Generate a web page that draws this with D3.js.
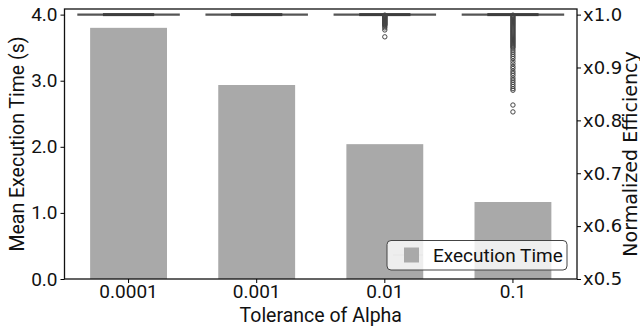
<!DOCTYPE html>
<html>
<head>
<meta charset="utf-8">
<script src="https://cdn.jsdelivr.net/npm/d3@7"></script>
<style>
  body { margin: 0; background: #fff; }
  text { fill: #111; }
</style>
</head>
<body>
<div class="main_area"></div>
<script>
const tolerances = ["0.0001", "0.001", "0.01", "0.1"];
const execTimes = [3.80, 2.935, 2.04, 1.165];
const leftTicks = [0, 1, 2, 3, 4];
const rightTicks = [0.5, 0.6, 0.7, 0.8, 0.9, 1.0];
// box stats of normalized efficiency (all collapsed at 1.0)
const boxQ1 = [1.0, 1.0, 1.0, 1.0];
const boxQ3 = [1.0, 1.0, 1.0, 1.0];
const boxMedian = [1.0, 1.0, 1.0, 1.0];
const outliers001 = [0.999, 0.998, 0.997, 0.996, 0.995, 0.994, 0.993, 0.992, 0.991, 0.990,
  0.989, 0.988, 0.987, 0.986, 0.985, 0.984, 0.983, 0.982, 0.981, 0.980, 0.978, 0.975, 0.971, 0.958];
const outliers01 = [0.999, 0.997, 0.995, 0.993, 0.991, 0.989, 0.987, 0.985, 0.983, 0.981,
  0.979, 0.977, 0.975, 0.973, 0.971, 0.969, 0.967, 0.965, 0.963, 0.961, 0.959, 0.957,
  0.955, 0.953, 0.951, 0.949, 0.947, 0.945, 0.943, 0.941, 0.939, 0.937, 0.933, 0.929,
  0.925, 0.921, 0.917, 0.912, 0.907, 0.902, 0.898, 0.893, 0.889, 0.885, 0.880, 0.876,
  0.872, 0.868, 0.864, 0.860, 0.857, 0.829, 0.816];
const outlierSets = [[], [], outliers001, outliers01];

const margin = {top: 9, right: 63, bottom: 52, left: 64.5};
const W = 640, H = 331;
const width = W - margin.left - margin.right,
  height = H - margin.top - margin.bottom;

const svg = d3.select(".main_area")
  .append("svg")
  .attr("width", W)
  .attr("height", H);

const plot = svg.append("g")
  .attr("transform", "translate(" + [margin.left, margin.top] + ")");

const x = d3.scaleBand()
  .domain(tolerances)
  .range([0, width])
  .padding(0);

const y = d3.scaleLinear()
  .domain([0, 4.085])
  .range([height, 0]);

// right axis shares the frame: x0.5 at bottom, x1.0 level with 4.0
const y2 = d3.scaleLinear()
  .domain([0.5, 1.0])
  .range([y(0), y(4)]);

// bars
plot.append("g")
  .selectAll("rect")
  .data(execTimes)
  .enter().append("rect")
    .attr("x", (d, i) => x(tolerances[i]) + x.bandwidth() * 0.2)
    .attr("width", x.bandwidth() * 0.6)
    .attr("y", d => y(d))
    .attr("height", d => y(0) - y(d))
    .attr("fill", "#a9a9a9");

// boxplots (collapsed)
const boxes = plot.append("g");
tolerances.forEach(function(t, i) {
  const cx = x(t) + x.bandwidth() / 2;
  const bw = x.bandwidth() * 0.8;
  boxes.append("line")
    .attr("x1", cx - bw / 2).attr("x2", cx + bw / 2)
    .attr("y1", y2(boxMedian[i])).attr("y2", y2(boxMedian[i]))
    .attr("stroke", "#555").attr("stroke-width", 2.4);
  boxes.append("rect")
    .attr("x", cx - bw / 4).attr("width", bw / 2)
    .attr("y", y2(boxQ3[i]) - 1.5)
    .attr("height", y2(boxQ1[i]) - y2(boxQ3[i]) + 3)
    .attr("fill", "#3d3d3d");
  boxes.selectAll(null)
    .data(outlierSets[i])
    .enter().append("circle")
      .attr("cx", cx)
      .attr("cy", d => y2(d))
      .attr("r", 2.2)
      .attr("fill", "none")
      .attr("stroke", "#444")
      .attr("stroke-width", 1);
});

// frame
plot.append("rect")
  .attr("width", width)
  .attr("height", height)
  .attr("fill", "none")
  .attr("stroke", "#111")
  .attr("stroke-width", 1.3);

const yAxis = plot.append("g")
  .call(d3.axisLeft(y).tickValues(leftTicks).tickFormat(d3.format(".1f")).tickSize(4).tickPadding(3));
yAxis.select(".domain").remove();
yAxis.selectAll("text").style("font-family", "Roboto").style("font-size", "19px");

const xAxis = plot.append("g")
  .attr("transform", "translate(0," + height + ")")
  .call(d3.axisBottom(x).tickSize(4).tickPadding(2));
xAxis.select(".domain").remove();
xAxis.selectAll("text").style("font-family", "Roboto").style("font-size", "19px");

const y2Axis = plot.append("g")
  .attr("transform", "translate(" + width + ",0)")
  .call(d3.axisRight(y2).tickValues(rightTicks).tickFormat(d => "x" + d3.format(".1f")(d)).tickSize(4).tickPadding(2));
y2Axis.select(".domain").remove();
y2Axis.selectAll("text").style("font-family", "DejaVu Sans").style("font-size", "18px");

// axis labels
svg.append("text")
  .attr("text-anchor", "middle")
  .attr("transform", "translate(" + [24, margin.top + height / 2] + ") rotate(-90)")
  .style("font-family", "Roboto").style("font-size", "19.5px")
  .text("Mean Execution Time (s)");

svg.append("text")
  .attr("text-anchor", "middle")
  .attr("transform", "translate(" + [margin.left + width / 2, 322] + ")")
  .style("font-family", "Roboto").style("font-size", "19.5px")
  .text("Tolerance of Alpha");

svg.append("text")
  .attr("text-anchor", "middle")
  .attr("transform", "translate(" + [637, margin.top + height / 2 + 10] + ") rotate(-90)")
  .style("font-family", "DejaVu Sans").style("font-size", "19px")
  .text("Normalized Efficiency");

// legend
const legend = plot.append("g")
  .attr("transform", "translate(" + [387 - margin.left, 240.5 - margin.top] + ")");
legend.append("rect")
  .attr("width", 180).attr("height", 29.5)
  .attr("rx", 4)
  .attr("fill", "rgba(255,255,255,0.8)")
  .attr("stroke", "#444").attr("stroke-width", 1);
legend.append("line")
  .attr("x1", 6).attr("x2", 36).attr("y1", 14.5).attr("y2", 14.5)
  .attr("stroke", "#e8e8e8").attr("stroke-width", 1.5);
legend.append("rect")
  .attr("x", 17).attr("y", 7).attr("width", 15).attr("height", 15)
  .attr("fill", "#a9a9a9");
legend.append("text")
  .attr("x", 46).attr("y", 21.5)
  .style("font-family", "Roboto").style("font-size", "19px")
  .text("Execution Time");
</script>
</body>
</html>
